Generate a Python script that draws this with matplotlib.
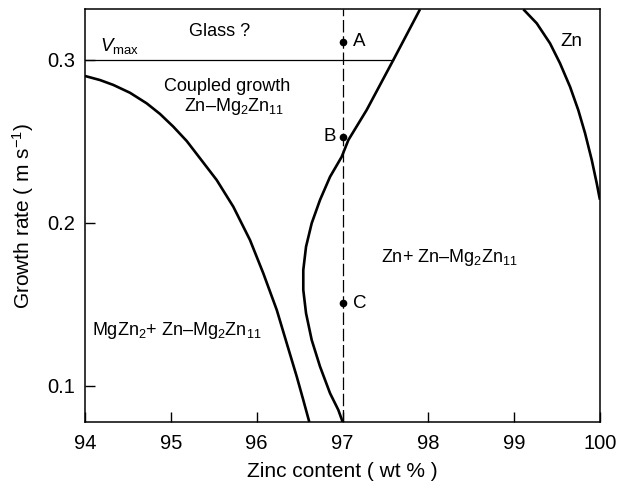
import matplotlib
matplotlib.use("Agg")
import matplotlib.pyplot as plt

plt.rcParams['font.family'] = ['Liberation Sans', 'DejaVu Sans']
plt.rcParams['mathtext.fontset'] = 'custom'
plt.rcParams['mathtext.rm'] = 'Liberation Sans'
plt.rcParams['mathtext.it'] = 'Liberation Sans:italic'

# boundary: MgZn2 + eutectic (left curve)
left_zn = [94.000, 94.175, 94.330, 94.524, 94.719, 94.874, 95.029, 95.185, 95.340,
           95.534, 95.728, 95.922, 96.077, 96.234, 96.350, 96.467, 96.543, 96.613]
left_v = [0.2899, 0.2874, 0.2844, 0.2796, 0.2731, 0.2666, 0.2588, 0.2500, 0.2394,
          0.2261, 0.2097, 0.1893, 0.1689, 0.1464, 0.1260, 0.1055, 0.0912, 0.0777]

# boundary: Zn + eutectic (middle curve, bends back on itself)
mid_zn = [97.002, 96.951, 96.855, 96.738, 96.641, 96.575, 96.543, 96.543, 96.575,
          96.641, 96.738, 96.855, 96.991, 97.068, 97.282, 97.592, 97.903]
mid_v = [0.0777, 0.0851, 0.0953, 0.1117, 0.1280, 0.1444, 0.1587, 0.1709, 0.1852,
         0.1996, 0.2139, 0.2281, 0.2404, 0.2506, 0.2691, 0.2997, 0.3308]

# boundary: Zn dendrites (right curve)
right_zn = [99.107, 99.263, 99.418, 99.534, 99.651, 99.747, 99.826, 99.904, 99.962, 99.992, 100.0]
right_v = [0.3308, 0.3222, 0.3099, 0.2977, 0.2833, 0.2690, 0.2548, 0.2384, 0.2241, 0.2159, 0.2140]

v_max = 0.30
v_max_end = 97.59
alloy_zn = 97.0
point_labels = ['A', 'B', 'C']
point_v = [0.3108, 0.2527, 0.1506]

fig = plt.figure(figsize=(6.28, 4.84), dpi=100)
ax = fig.add_axes([0.1354, 0.1281, 0.8200, 0.8527])

for xs, ys in [(left_zn, left_v), (mid_zn, mid_v), (right_zn, right_v)]:
    ax.plot(xs, ys, color='black', lw=1.9, solid_capstyle='butt', solid_joinstyle='round')

ax.plot([94, v_max_end], [v_max, v_max], color='black', lw=0.9)
ax.axvline(alloy_zn, color='black', lw=0.9, dashes=(10, 3))

ax.plot([alloy_zn] * 3, point_v, 'o', color='black', ms=4.5)
for lab, v in zip(point_labels, point_v):
    if lab == 'B':
        ax.text(alloy_zn - 0.08, v, lab, ha='right', va='center', fontsize=13.5)
    else:
        ax.text(alloy_zn + 0.12, v, lab, ha='left', va='center', fontsize=13.5)

ax.text(95.57, 0.3169, 'Glass ?', ha='center', va='center', fontsize=13)
ax.text(94.18, 0.3022, r'$V_{\mathrm{max}}$', ha='left', va='bottom', fontsize=13.5)
ax.text(95.65, 0.2837, 'Coupled growth', ha='center', va='center', fontsize=13)
ax.text(95.74, 0.2712, 'Zn–Mg$_2$Zn$_{11}$', ha='center', va='center', fontsize=13)
ax.text(99.67, 0.311, 'Zn', ha='center', va='center', fontsize=13.5)
ax.text(98.25, 0.1783, 'Zn+ Zn–Mg$_2$Zn$_{11}$', ha='center', va='center', fontsize=13)
ax.text(94.08, 0.1340, 'MgZn$_2$+ Zn–Mg$_2$Zn$_{11}$', ha='left', va='center', fontsize=13)

ax.set_xlim(94, 100)
ax.set_ylim(0.0777, 0.3308)
ax.set_xticks([94, 95, 96, 97, 98, 99, 100])
ax.set_yticks([0.1, 0.2, 0.3])
ax.tick_params(direction='in', length=7, width=1, labelsize=14.5)
ax.tick_params(axis='x', pad=9)
ax.tick_params(axis='y', pad=7)
for s in ax.spines.values():
    s.set_linewidth(1.1)

ax.set_xlabel('Zinc content ( wt % )', fontsize=15, labelpad=6)
ax.set_ylabel('Growth rate ( m s$^{-1}$)', fontsize=15, labelpad=8)

fig.savefig('out.png', dpi=100)
